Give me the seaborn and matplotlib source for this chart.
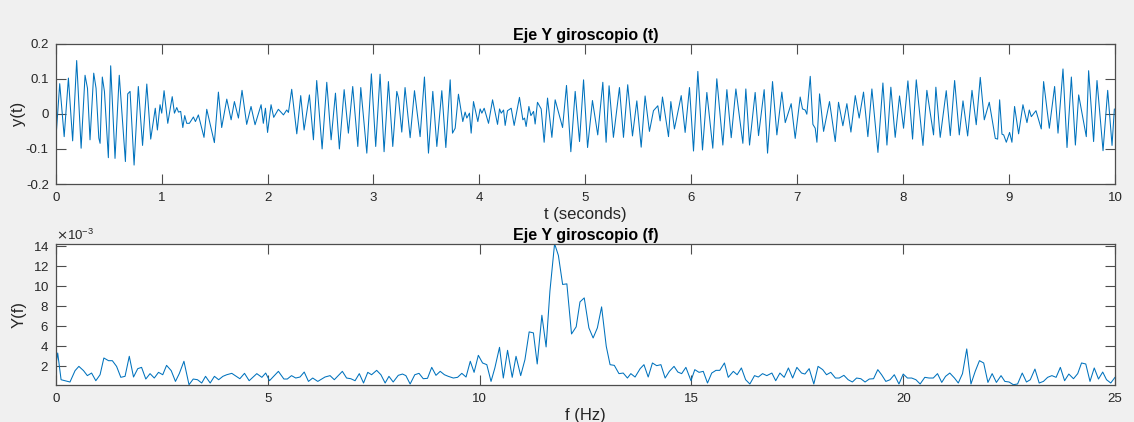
import numpy as np
import pandas as pd
import matplotlib
matplotlib.use("Agg")
import matplotlib.pyplot as plt
from matplotlib.ticker import FuncFormatter
import seaborn as sns

# ---------------- data ----------------
t_sec = [0.000, 0.038, 0.080, 0.120, 0.160, 0.198, 0.240, 0.277, 0.300, 0.324, 0.359, 0.381, 0.407, 0.419,
         0.440, 0.460, 0.497, 0.519, 0.560, 0.600, 0.658, 0.680, 0.702, 0.740, 0.780, 0.820, 0.860, 0.897,
         0.940, 0.960, 0.985, 1.001, 1.023, 1.058, 1.100, 1.121, 1.143, 1.159, 1.180, 1.200, 1.218, 1.237,
         1.262, 1.300, 1.319, 1.347, 1.400, 1.426, 1.498, 1.536, 1.567, 1.615, 1.656, 1.687,
         1.725, 1.759, 1.803, 1.844, 1.882, 1.939, 1.960, 1.980, 2.000, 2.033, 2.058, 2.102, 2.150, 2.181,
         2.197, 2.228, 2.276, 2.313, 2.345, 2.395, 2.433, 2.464, 2.515, 2.559, 2.600, 2.641, 2.678, 2.723,
         2.763, 2.804, 2.852, 2.880, 2.937, 2.980, 3.021, 3.062, 3.100, 3.141, 3.182, 3.220, 3.236, 3.267,
         3.298, 3.346, 3.387,
         3.440, 3.481, 3.519, 3.560, 3.598, 3.645, 3.683, 3.724, 3.746, 3.771, 3.802, 3.843, 3.865, 3.881,
         3.906, 3.922, 3.944, 3.985, 4.007, 4.023, 4.045, 4.086, 4.124, 4.171, 4.190, 4.206, 4.228, 4.243,
         4.265, 4.300, 4.328, 4.378, 4.410, 4.426, 4.441, 4.467, 4.486, 4.511, 4.526, 4.548, 4.583, 4.611,
         4.643, 4.684, 4.715, 4.785, 4.822, 4.863, 4.904, 4.945, 4.983, 5.021, 5.067,
         5.117, 5.165, 5.196, 5.224, 5.265, 5.322, 5.360, 5.400, 5.445, 5.486, 5.527, 5.564, 5.605, 5.643,
         5.684, 5.706, 5.728, 5.785, 5.807, 5.841, 5.905, 5.942, 5.983, 6.021, 6.062, 6.106, 6.147, 6.203,
         6.241, 6.298, 6.336, 6.377, 6.421, 6.487, 6.515, 6.550, 6.603, 6.635, 6.688, 6.720, 6.767,
         6.808, 6.855, 6.887, 6.943, 6.981, 7.028, 7.050, 7.075, 7.091, 7.123, 7.148, 7.170, 7.186, 7.211,
         7.249, 7.305, 7.359, 7.390, 7.431, 7.469, 7.507, 7.548, 7.585, 7.626, 7.667, 7.705, 7.762, 7.809,
         7.847, 7.884, 7.925, 7.966, 8.004, 8.045, 8.089, 8.124, 8.187, 8.224, 8.287, 8.309, 8.350, 8.407,
         8.445, 8.486,
         8.530, 8.565, 8.609, 8.650, 8.690, 8.728, 8.766, 8.813, 8.870, 8.892, 8.911, 8.933, 8.949, 8.974,
         9.005, 9.027, 9.052, 9.090, 9.131, 9.169, 9.191, 9.210, 9.254, 9.304, 9.326, 9.380, 9.430, 9.462,
         9.509, 9.547, 9.588, 9.626, 9.657, 9.729, 9.751, 9.798, 9.830, 9.887, 9.931, 9.972, 9.994]

y_t = [-0.079, 0.086, -0.065, 0.102, -0.077, 0.152, -0.098, 0.110, 0.073, -0.074, 0.116, 0.073, -0.069, -0.084,
       0.105, 0.064, -0.125, 0.137, -0.127, 0.110, -0.136, 0.057, 0.064, -0.146, 0.078, -0.090, 0.085, -0.072,
       0.016, -0.046, 0.026, 0.002, 0.066, -0.027, 0.049, 0.002, 0.018, 0.005, 0.007, -0.039, -0.005, -0.027,
       -0.027, -0.009, -0.022, -0.003, -0.067, 0.013, -0.082, 0.062, -0.039, 0.042, -0.017, 0.035,
       -0.012, 0.067, -0.030, 0.021, -0.031, 0.026, -0.027, 0.016, -0.053, 0.026, -0.010, 0.013, -0.003, 0.011,
       0.004, 0.070, -0.057, 0.052, -0.046, 0.054, -0.074, 0.095, -0.100, 0.090, -0.074, 0.059, -0.100, 0.069,
       -0.055, 0.078, -0.093, 0.075, -0.112, 0.114, -0.093, 0.113, -0.108, 0.092, -0.093, 0.064, 0.045, -0.052,
       0.075, -0.068, 0.066,
       -0.065, 0.105, -0.112, 0.064, -0.093, 0.066, -0.096, 0.097, -0.055, -0.041, 0.056, -0.022, 0.005, -0.012,
       0.002, -0.055, 0.035, -0.022, 0.014, 0.002, 0.016, -0.027, 0.040, -0.030, 0.014, 0.002, 0.011, -0.033,
       0.009, 0.016, -0.033, 0.047, -0.017, -0.012, -0.036, 0.021, -0.005, 0.007, -0.029, 0.033, 0.014, -0.081,
       0.045, -0.067, 0.040, -0.039, 0.081, -0.108, 0.064, -0.079, 0.097, -0.096, 0.038,
       -0.060, 0.090, -0.081, 0.080, -0.067, 0.075, -0.067, 0.083, -0.063, 0.037, -0.095, 0.051, -0.050, 0.009,
       0.023, -0.020, 0.048, -0.065, 0.035, -0.043, 0.052, -0.053, 0.075, -0.106, 0.121, -0.103, 0.061, -0.098,
       0.100, -0.089, 0.069, -0.068, 0.071, -0.084, 0.071, -0.089, 0.061, -0.062, 0.069, -0.112, 0.092,
       -0.060, 0.062, -0.025, 0.029, -0.070, 0.048, 0.014, 0.011, -0.001, 0.107, -0.030, -0.041, -0.081, 0.057,
       -0.050, 0.035, -0.079, 0.033, -0.034, 0.029, -0.052, 0.052, -0.012, 0.062, -0.065, 0.071, -0.110, 0.088,
       -0.089, 0.076, -0.067, 0.051, -0.041, 0.094, -0.072, 0.097, -0.090, 0.067, -0.060, 0.076, -0.067, 0.066,
       -0.062, 0.095,
       -0.060, 0.037, -0.063, 0.067, -0.031, 0.104, -0.017, 0.033, -0.070, -0.072, 0.040, -0.058, -0.060, -0.081,
       -0.053, -0.081, 0.021, -0.057, 0.026, -0.025, 0.011, -0.008, 0.009, -0.043, 0.092, -0.041, 0.078, -0.055,
       0.128, -0.096, 0.105, -0.089, 0.054, -0.065, 0.123, -0.079, 0.095, -0.105, 0.067, -0.090, 0.014]

f_hz = [0.00, 0.04, 0.12, 0.33, 0.45, 0.54, 0.65, 0.74, 0.84, 0.94, 1.04, 1.13, 1.24, 1.33, 1.43, 1.53, 1.63,
        1.73, 1.83, 1.93, 2.02, 2.12, 2.22, 2.32, 2.42, 2.52, 2.61, 2.72, 2.82, 2.91, 3.02, 3.14, 3.24, 3.34,
        3.44, 3.53, 3.64, 3.74, 3.84, 3.94, 4.03,
        4.15, 4.34, 4.45, 4.56, 4.74, 4.86, 4.95, 5.04, 5.25, 5.38, 5.46, 5.56, 5.66, 5.76, 5.86, 5.96, 6.06,
        6.18, 6.35, 6.47, 6.57, 6.76, 6.86, 6.96, 7.06, 7.16, 7.26, 7.36, 7.45, 7.57, 7.67, 7.77, 7.86, 7.96,
        8.08, 8.18, 8.26, 8.36, 8.47, 8.57, 8.67, 8.77, 8.87, 8.97, 9.07, 9.17, 9.26, 9.38, 9.48, 9.58, 9.68,
        9.78, 9.87, 9.97, 10.07, 10.17, 10.27, 10.36, 10.47, 10.56, 10.66, 10.77, 10.86, 10.97, 11.07, 11.17,
        11.27, 11.36, 11.47, 11.57, 11.66, 11.77, 11.86, 11.96, 12.06, 12.17, 12.28, 12.37, 12.47,
        12.58, 12.68, 12.78, 12.88, 12.99, 13.08, 13.18, 13.29, 13.39, 13.49, 13.57, 13.67, 13.79, 13.88,
        13.98, 14.08, 14.18, 14.28, 14.38, 14.48, 14.59, 14.68, 14.77, 14.87, 14.99, 15.08, 15.18, 15.28,
        15.38, 15.48, 15.58, 15.67, 15.78, 15.87, 15.99, 16.08, 16.18, 16.28, 16.38,
        16.49, 16.58, 16.68, 16.78, 16.90, 16.99, 17.09, 17.19, 17.29, 17.39, 17.49, 17.60, 17.68, 17.78,
        17.89, 17.99, 18.10, 18.19, 18.29, 18.40, 18.49, 18.60, 18.70, 18.80, 18.90, 19.00, 19.10, 19.20,
        19.30, 19.40, 19.49, 19.59, 19.69, 19.79, 19.90, 20.00, 20.10, 20.20, 20.30, 20.40,
        20.51, 20.61, 20.71, 20.81, 20.91, 21.00, 21.10, 21.21, 21.30, 21.40, 21.50, 21.60, 21.70, 21.80,
        21.90, 22.00, 22.10, 22.20, 22.31, 22.40, 22.50, 22.60, 22.70, 22.81, 22.91, 23.00, 23.11, 23.21,
        23.31, 23.41, 23.51, 23.61, 23.71, 23.81, 23.91, 24.02, 24.12, 24.21, 24.31, 24.41, 24.51, 24.61,
        24.71, 24.80, 24.90, 25.00]

Y_f_milli = [2.1, 3.27, 0.59, 0.36, 1.5, 1.93, 1.5, 1.0, 1.26, 0.49, 1.09, 2.77, 2.5, 2.5, 1.93, 0.83, 0.93,
             2.94, 0.86, 1.7, 1.83, 0.66, 1.2, 0.76, 1.33, 1.09, 2.03, 1.5, 0.42, 1.2, 2.44, 0.09, 0.66, 0.59,
             0.26, 0.93, 0.26, 0.93, 0.59, 0.93, 1.09,
             1.23, 0.69, 1.23, 0.49, 1.2, 0.83, 1.26, 0.49, 1.43, 0.66, 0.66, 1.0, 0.76, 0.86, 1.36, 0.42, 0.76,
             0.42, 0.86, 1.0, 0.59, 1.43, 0.76, 0.69, 0.49, 1.2, 0.26, 1.33, 1.09, 1.53, 1.09, 0.26, 0.93, 0.36,
             1.03, 1.16, 1.0, 0.16, 1.09, 1.23, 0.69, 0.73, 1.83, 1.03, 1.43, 1.09, 0.93, 0.76, 0.83, 1.23, 0.86,
             2.44, 1.33, 3.04, 2.27, 2.1, 0.42, 1.77, 3.84, 0.76, 3.54, 0.83, 2.94, 1.0, 2.6, 5.39,
             5.29, 2.17, 7.06, 3.88, 9.48, 14.24, 13.06, 10.15, 10.21, 5.18, 5.9, 8.4, 8.8,
             5.79, 4.78, 5.79, 7.9, 3.94, 2.1, 2.03, 1.2, 1.26, 0.76, 1.2, 0.86, 1.7, 2.1,
             0.86, 2.27, 2.0, 2.1, 0.76, 1.43, 1.93, 1.36, 1.2, 1.83, 0.49, 1.6, 1.33, 1.43,
             0.26, 1.26, 1.53, 1.53, 2.27, 0.83, 1.43, 1.09, 1.77, 0.59, 0.16,
             1.0, 0.86, 1.2, 1.0, 1.26, 0.49, 1.26, 0.83, 1.77, 0.76, 1.83, 1.26, 1.16, 1.7,
             0.16, 1.93, 1.6, 1.09, 1.33, 0.76, 0.76, 1.03, 0.59, 0.36, 0.76, 0.69, 0.36, 0.66,
             0.69, 1.6, 1.09, 0.42, 0.59, 1.09, 0.16, 1.16, 0.76, 0.76, 0.59, 0.16,
             0.83, 0.76, 0.76, 1.2, 0.32, 0.93, 1.26, 0.76, 0.26, 1.2, 3.68, 0.16, 1.43, 2.5,
             2.27, 0.32, 1.2, 0.32, 1.0, 0.42, 0.36, 0.09, 0.16, 1.26, 0.36, 0.59, 1.66, 0.26,
             0.42, 0.83, 1.0, 0.83, 1.83, 0.49, 1.16, 0.69, 1.2, 2.27, 2.17, 0.42, 1.77, 0.66,
             1.36, 0.59, 0.26, 0.83]

title_t = "Eje Y giroscopio (t)"
title_f = "Eje Y giroscopio (f)"
xlabel_t = "t (seconds)"
ylabel_t = "y(t)"
xlabel_f = "f (Hz)"
ylabel_f = "Y(f)"

# ---------------- style ----------------
sns.set_style("white")
plt.rcParams["font.family"] = ["Liberation Sans", "DejaVu Sans"]
plt.rcParams["axes.unicode_minus"] = False

line_color = "#0072BD"
axis_color = "#4d4d4d"
bg = "#f0f0f0"

fig = plt.figure(figsize=(11.34, 4.22), dpi=100)
fig.patch.set_facecolor(bg)

W, H = 1134, 422
ax1 = fig.add_axes([55.7 / W, 1 - 184 / H, (1115 - 55.7) / W, (184 - 43.7) / H])
ax2 = fig.add_axes([56 / W, 1 - 384.7 / H, (1115 - 56) / W, (384.7 - 243.7) / H])

df_t = pd.DataFrame({"t": t_sec, "y": y_t})
df_f = pd.DataFrame({"f": f_hz, "Y": np.array(Y_f_milli) * 1e-3})

sns.lineplot(data=df_t, x="t", y="y", ax=ax1, color=line_color, linewidth=0.75,
             estimator=None, sort=False)
sns.lineplot(data=df_f, x="f", y="Y", ax=ax2, color=line_color, linewidth=0.75,
             estimator=None, sort=False)

for ax in (ax1, ax2):
    ax.set_facecolor("white")
    for s in ax.spines.values():
        s.set_visible(True)
        s.set_color(axis_color)
        s.set_linewidth(0.9)
    ax.tick_params(direction="in", length=7, width=0.8, color=axis_color,
                   top=True, right=True, bottom=True, left=True,
                   labelsize=9.5, labelcolor="#262626")
    ax.tick_params(axis="x", pad=6)
    ax.tick_params(axis="y", pad=5)

# time axis
ax1.set_xlim(0, 10)
ax1.set_ylim(-0.2, 0.2)
ax1.set_xticks(np.arange(0, 11, 1))
ax1.set_yticks([-0.2, -0.1, 0, 0.1, 0.2])
ax1.yaxis.set_major_formatter(FuncFormatter(lambda v, p: f"{v:g}"))
ax1.set_title(title_t, fontsize=11.5, fontweight="bold", color="#000000", pad=3)
ax1.set_xlabel(xlabel_t, fontsize=12, color="#262626", labelpad=2)
ax1.set_ylabel(ylabel_t, fontsize=12, color="#262626", labelpad=0)

# frequency axis
ax2.set_xlim(0, 25)
ax2.set_ylim(df_f["Y"].min(), df_f["Y"].max())
ax2.set_xticks([0, 5, 10, 15, 20, 25])
ax2.set_yticks(np.arange(2, 15, 2) * 1e-3)
ax2.ticklabel_format(axis="y", style="sci", scilimits=(-3, -3), useMathText=True)
ax2.yaxis.get_offset_text().set_fontsize(9.5)
ax2.yaxis.get_offset_text().set_color("#262626")
ax2.set_title(title_f, fontsize=11.5, fontweight="bold", color="#000000", pad=3)
ax2.set_xlabel(xlabel_f, fontsize=12, color="#262626", labelpad=2)
ax2.set_ylabel(ylabel_f, fontsize=12, color="#262626", labelpad=4)

fig.savefig("out.png", dpi=100, facecolor=bg)
